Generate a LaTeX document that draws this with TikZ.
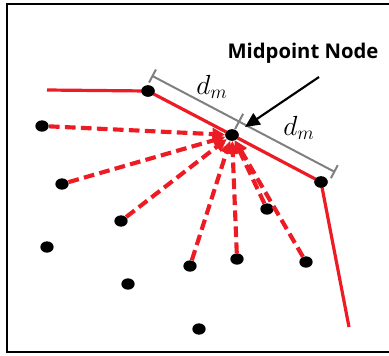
\documentclass[tikz,border=0pt]{standalone}
\usepackage{fontspec}
\newfontfamily\labelfont{Open Sans}
\usepackage{amsmath}
\usepackage{xcolor}
\usepackage{tikz}
\usetikzlibrary{shapes.geometric, positioning, calc, arrows.meta}

\definecolor{routered}{RGB}{237,28,36}
\definecolor{dimgray}{RGB}{128,128,128}

\begin{document}
\begin{tikzpicture}[
        x=0.75pt, y=-0.75pt,
        % Define the black sensor dots
        dot/.style={
            draw=none,
            fill=black,
            ellipse,
            minimum width=10pt,
            minimum height=8.5pt,
            inner sep=0pt
        },
        route/.style={
            draw=routered,
            line width=2.4pt
        },
        hop/.style={
            draw=routered,
            line width=3.1pt,
            dash pattern=on 8pt off 4pt,
            -{Triangle[length=9.5pt,width=9pt]}
        },
        dimline/.style={
            draw=dimgray,
            line width=1.5pt
        },
        dimlabel/.style={
            font=\fontsize{19.5}{21}\selectfont
        }
    ]

    \useasboundingbox (0,0) rectangle (389,355);

    % ==========================================
    % FRAME
    % ==========================================
    \draw[line width=2.2pt] (392,4) -- (7,4) -- (7,352) -- (392,352);

    % ==========================================
    % NODES
    % ==========================================

    % Route nodes
    \node[dot] (n1) at (148,91) {};
    \node[dot] (mid) at (232,135) {};
    \node[dot] (n2) at (321,182) {};

    % Other nodes
    \node[dot] (p1) at (42,126) {};
    \node[dot] (p2) at (62,184) {};
    \node[dot] (p3) at (121,221) {};
    \node[dot] (p4) at (47,247) {};
    \node[dot] (p5) at (128,284) {};
    \node[dot] (p6) at (190,266) {};
    \node[dot] (p7) at (237,259) {};
    \node[dot] (p8) at (267,209) {};
    \node[dot] (p9) at (306,262) {};
    \node[dot] (p10) at (199,329) {};

    % Free ends of the route
    \coordinate (rstart) at (47,90);
    \coordinate (rend) at (349,327);

    % ==========================================
    % ROUTE
    % ==========================================
    \draw[hop] (p1) -- (mid);
    \draw[hop] (p2) -- (mid);
    \draw[hop] (p3) -- (mid);
    \draw[hop] (p6) -- (mid);
    \draw[hop] (p7) -- (mid);
    \draw[hop] (p8) -- (mid);
    \draw[hop] (p9) -- (mid);

    \draw[route] (rstart) -- (n1.center) -- (mid.center) -- (n2.center) -- (rend);
    \node[dot] at (n1) {};
    \node[dot] at (mid) {};
    \node[dot] at (n2) {};

    % ==========================================
    % DISTANCE MARKS
    % ==========================================
    \coordinate (d1) at ($(n1.center)!11.5pt!90:(n2.center)$);
    \coordinate (d2) at ($(mid.center)!11.5pt!-90:(n1.center)$);
    \coordinate (d3) at ($(n2.center)!11.5pt!-90:(n1.center)$);
    \coordinate (d0) at ($(d1)!-3pt!(d3)$);
    \coordinate (d4) at ($(d3)!-6pt!(d1)$);

    \draw[dimline, {Bar[width=11pt]}-{Bar[width=11pt]}] (d0) -- (d4);
    \draw[dimline] ($(d2)!6.5pt!90:(d3)$) -- ($(d2)!6.5pt!-90:(d3)$);

    \node[dimlabel] (lab1) at (212,87) {$d_m$};
    \node[dimlabel] (lab2) at (299,128) {$d_m$};

    % ==========================================
    % MIDPOINT LABEL
    % ==========================================
    \node[font=\labelfont\bfseries\fontsize{15.2}{17}\selectfont] (title) at (303,53) {Midpoint Node};
    \coordinate (ptail) at (319,77);
    \coordinate (phead) at (245,127);
    \draw[line width=1.6pt, -{Triangle[length=11pt,width=10pt]}] (ptail) -- (phead);

\end{tikzpicture}
\end{document}
